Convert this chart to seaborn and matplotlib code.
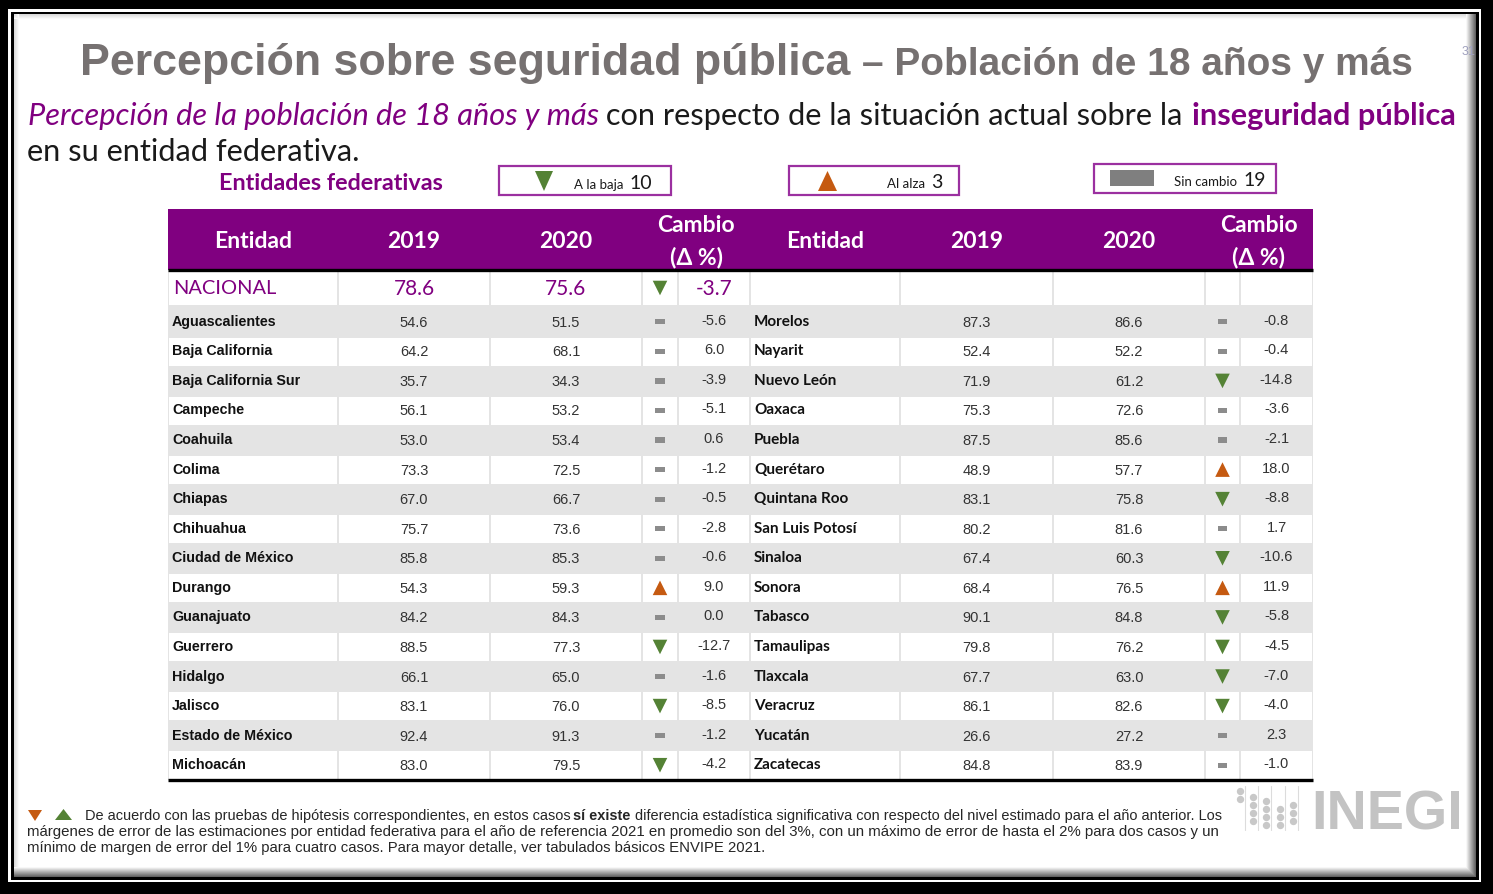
import numpy as np
import pandas as pd
import matplotlib
matplotlib.use("Agg")
import matplotlib.pyplot as plt
from matplotlib.patches import Rectangle, Polygon
import seaborn as sns

# ---- data ----
national = ["NACIONAL", 78.6, 75.6, -3.7, "baja"]

left_states = ["Aguascalientes", "Baja California", "Baja California Sur", "Campeche",
               "Coahuila", "Colima", "Chiapas", "Chihuahua", "Ciudad de México",
               "Durango", "Guanajuato", "Guerrero", "Hidalgo", "Jalisco",
               "Estado de México", "Michoacán"]
left_2019 = [54.6, 64.2, 35.7, 56.1, 53.0, 73.3, 67.0, 75.7, 85.8, 54.3, 84.2, 88.5, 66.1, 83.1, 92.4, 83.0]
left_2020 = [51.5, 68.1, 34.3, 53.2, 53.4, 72.5, 66.7, 73.6, 85.3, 59.3, 84.3, 77.3, 65.0, 76.0, 91.3, 79.5]
left_change = [-5.6, 6.0, -3.9, -5.1, 0.6, -1.2, -0.5, -2.8, -0.6, 9.0, 0.0, -12.7, -1.6, -8.5, -1.2, -4.2]
left_trend = ["igual", "igual", "igual", "igual", "igual", "igual", "igual", "igual", "igual",
              "alza", "igual", "baja", "igual", "baja", "igual", "baja"]

right_states = ["Morelos", "Nayarit", "Nuevo León", "Oaxaca", "Puebla", "Querétaro",
                "Quintana Roo", "San Luis Potosí", "Sinaloa", "Sonora", "Tabasco",
                "Tamaulipas", "Tlaxcala", "Veracruz", "Yucatán", "Zacatecas"]
right_2019 = [87.3, 52.4, 71.9, 75.3, 87.5, 48.9, 83.1, 80.2, 67.4, 68.4, 90.1, 79.8, 67.7, 86.1, 26.6, 84.8]
right_2020 = [86.6, 52.2, 61.2, 72.6, 85.6, 57.7, 75.8, 81.6, 60.3, 76.5, 84.8, 76.2, 63.0, 82.6, 27.2, 83.9]
right_change = [-0.8, -0.4, -14.8, -3.6, -2.1, 18.0, -8.8, 1.7, -10.6, 11.9, -5.8, -4.5, -7.0, -4.0, 2.3, -1.0]
right_trend = ["igual", "igual", "baja", "igual", "igual", "alza", "baja", "igual", "baja",
               "alza", "baja", "baja", "baja", "baja", "igual", "igual"]

header_cols = ["Entidad", "2019", "2020"]

# ---- style ----
PURPLE = "#800080"
GREEN = "#548235"
ORANGE = "#c55a11"
GREY_MARK = "#8c8c8c"
ROW_GREY = "#e4e4e4"
trend_colors = {"baja": GREEN, "alza": ORANGE, "igual": GREY_MARK}
rect_marker = [(-1, -0.55), (1, -0.55), (1, 0.55), (-1, 0.55), (-1, -0.55)]

sns.set_theme(style="white")
plt.rcParams["font.family"] = ["Liberation Sans", "DejaVu Sans"]
CAL = ["Lato", "DejaVu Sans"]

fig = plt.figure(figsize=(14.93, 8.94), dpi=100, facecolor="black")
ax = fig.add_axes([0, 0, 1, 1])
ax.set_xlim(0, 1493)
ax.set_ylim(894, 0)
ax.axis("off")
renderer = fig.canvas.get_renderer()


def fit(t, width):
    w = t.get_window_extent(renderer).width
    t.set_fontsize(t.get_fontsize() * width / w)
    return t


def rich(x, y, pieces, width, size=12, **common):
    texts = [ax.text(x, y, s, fontsize=size, ha="left", va="baseline", **common, **kw)
             for s, kw in pieces]
    widths = [t.get_window_extent(renderer).width for t in texts]
    scale = width / sum(widths)
    cx = x
    for t, w in zip(texts, widths):
        t.set_fontsize(size * scale)
        t.set_x(cx)
        cx += w * scale
    return size * scale


# ---- frame ----
ax.add_patch(Rectangle((0, 0), 1493, 894, color="black", lw=0, zorder=0))
ax.add_patch(Rectangle((8, 9), 1473, 873, color="white", lw=0, zorder=0))
ax.add_patch(Rectangle((11, 12), 1468, 868, color="black", lw=0, zorder=0))
ax.add_patch(Rectangle((14, 14), 1462, 863, color="white", lw=0, zorder=0))
for i in range(10):
    g = 0.97 - 0.065 * i
    ax.add_patch(Rectangle((14, 867 + i), 1462, 1, color=str(g), lw=0, zorder=0.5))
    ax.add_patch(Rectangle((1466 + i, 14), 1, 863, color=str(g), lw=0, zorder=0.5))
for i in range(5):
    g = 0.86 + 0.03 * i
    ax.add_patch(Rectangle((14, 14 + i), 1452, 1, color=str(g), lw=0, zorder=0.5))
    ax.add_patch(Rectangle((14 + i, 14), 1, 853, color=str(g), lw=0, zorder=0.5))

# ---- titles ----
t = ax.text(80, 75, "Percepción sobre seguridad pública", fontsize=33, fontweight="bold",
            color="#767171", ha="left", va="baseline")
fit(t, 772)
t = ax.text(862, 75, "– Población de 18 años y más", fontsize=28, fontweight="bold",
            color="#767171", ha="left", va="baseline")
fit(t, 551)
ax.text(1462, 52, "31", fontsize=9, color="#9fa0bd", ha="left", va="center", zorder=0.6)

fs = rich(28, 125, [("Percepción de la población de 18 años y más", dict(color=PURPLE, style="italic")),
                    (" con respecto de la situación actual sobre la ", dict(color="#1a1a1a")),
                    ("inseguridad pública", dict(color=PURPLE, fontweight="bold"))],
          1427, size=19, family=CAL)
ax.text(27, 161, "en su entidad federativa.", fontsize=fs, color="#1a1a1a", family=CAL,
        ha="left", va="baseline")

t = ax.text(219, 190, "Entidades federativas", fontsize=14, fontweight="bold", color=PURPLE,
            family=CAL, ha="left", va="baseline")
fit(t, 226)

# ---- legend boxes ----
n_baja = sum(tr == "baja" for tr in left_trend + right_trend)
n_alza = sum(tr == "alza" for tr in left_trend + right_trend)
n_igual = len(left_trend + right_trend) - n_baja - n_alza

for (bx, by, bw, bh) in [(499, 166, 172, 29), (789, 166, 170, 29), (1094, 164, 182, 29)]:
    ax.add_patch(Rectangle((bx, by), bw, bh, fill=False, ec="#9b30a0", lw=1.6, zorder=2))
ax.add_patch(Polygon([(535, 171), (553, 171), (544, 191)], color=GREEN, lw=0, zorder=2))
ax.add_patch(Polygon([(818, 191), (837, 191), (827.5, 171)], color=ORANGE, lw=0, zorder=2))
ax.add_patch(Rectangle((1110, 170), 44, 16, color="#7f7f7f", lw=0, zorder=2))
for x0, lab, n, y0 in [(574, "A la baja", n_baja, 189), (887, "Al alza", n_alza, 188),
                       (1174, "Sin cambio", n_igual, 186)]:
    t1 = ax.text(x0, y0, lab, fontsize=9.5, family=CAL, color="#1a1a1a", ha="left", va="baseline")
    w = t1.get_window_extent(renderer).width
    ax.text(x0 + w + 6, y0, str(n), fontsize=14, family=CAL, color="#1a1a1a", ha="left", va="baseline")

# ---- table ----
left_edges = [168, 338, 490, 642, 678, 750]
right_edges = [750, 900, 1053, 1205, 1240, 1313]
head_top, head_bot = 209, 270
nat_bot = 306
row_h = (780 - 307) / 16
row_top = [307 + i * row_h for i in range(16)]

ax.add_patch(Rectangle((168, head_top), 1313 - 168, head_bot - head_top, color=PURPLE, lw=0, zorder=1))
ax.add_patch(Rectangle((168, head_bot), 1313 - 168, 780 - head_bot, color=ROW_GREY, lw=0, zorder=1))

gap = 1.2
for edges in (left_edges, right_edges):
    for a, b in zip(edges[:-1], edges[1:]):
        ax.add_patch(Rectangle((a + gap, head_bot + 1), b - a - 2 * gap, nat_bot - head_bot - 2,
                               color="white", lw=0, zorder=1.2))
        for i in range(1, 16, 2):
            ax.add_patch(Rectangle((a + gap, row_top[i] + 1), b - a - 2 * gap, row_h - 1.5,
                                   color="white", lw=0, zorder=1.2))

ax.plot([168, 1313], [head_bot, head_bot], color="black", lw=2.4, zorder=3, solid_capstyle="butt")
ax.plot([168, 1313], [780, 780], color="black", lw=2.4, zorder=3, solid_capstyle="butt")

# header text
for edges in (left_edges, right_edges):
    for j, lab in enumerate(header_cols):
        ax.text((edges[j] + edges[j + 1]) / 2, 242, lab, fontsize=16.5, fontweight="bold",
                color="white", family=CAL, ha="center", va="center", zorder=4)
    cx = (edges[3] + edges[5]) / 2
    ax.text(cx, 225, "Cambio", fontsize=16.5, fontweight="bold", color="white",
            family=CAL, ha="center", va="center", zorder=4)
    ax.text(cx, 258, "(Δ %)", fontsize=16.5, fontweight="bold", color="white",
            family=CAL, ha="center", va="center", zorder=4)

# national row
nat_y = (head_bot + nat_bot) / 2
t = ax.text(173, nat_y + 1, national[0], fontsize=15, color=PURPLE, family=CAL,
            ha="left", va="center", zorder=4)
fit(t, 103)
for j, v in enumerate(national[1:4]):
    col = [1, 2, 4][j]
    ax.text((left_edges[col] + left_edges[col + 1]) / 2, nat_y + 1, f"{v:.1f}", fontsize=15,
            color=PURPLE, family=CAL, ha="center", va="center", zorder=4)

# body rows
centers = [rt + row_h / 2 for rt in row_top]
for edges, names, v19, v20, chg, name_font in [
        (left_edges, left_states, left_2019, left_2020, left_change, ["Liberation Sans", "DejaVu Sans"]),
        (right_edges, right_states, right_2019, right_2020, right_change, CAL)]:
    for i in range(16):
        yc = centers[i]
        ax.text(edges[0] + 4, yc, names[i], fontsize=11 if name_font == CAL else 10.3,
                fontweight="bold", color="#111111", family=name_font, ha="left", va="center", zorder=4)
        ax.text((edges[1] + edges[2]) / 2, yc + 1, f"{v19[i]:.1f}", fontsize=10.5, color="#333333",
                ha="center", va="center", zorder=4)
        ax.text((edges[2] + edges[3]) / 2, yc + 1, f"{v20[i]:.1f}", fontsize=10.5, color="#333333",
                ha="center", va="center", zorder=4)
        ax.text((edges[4] + edges[5]) / 2, yc - 1, f"{chg[i]:.1f}", fontsize=10.5, color="#333333",
                ha="center", va="center", zorder=4)

# trend markers
marks = pd.DataFrame({
    "x": [(left_edges[3] + left_edges[4]) / 2] * 17 + [(right_edges[3] + right_edges[4]) / 2] * 16,
    "y": [nat_y] + centers + centers,
    "trend": [national[4]] + left_trend + right_trend,
})
sns.scatterplot(data=marks, x="x", y="y", hue="trend", style="trend", size="trend",
                palette=trend_colors, markers={"baja": "v", "alza": "^", "igual": rect_marker},
                sizes={"baja": 110, "alza": 110, "igual": 48}, linewidth=0, legend=False,
                ax=ax, zorder=5)
ax.set_xlim(0, 1493)
ax.set_ylim(894, 0)
ax.axis("off")

# ---- footnote ----
ax.add_patch(Polygon([(28, 810), (42, 810), (35, 821)], color=ORANGE, lw=0, zorder=2))
ax.add_patch(Polygon([(55, 820), (72, 820), (63.5, 809)], color=GREEN, lw=0, zorder=2))
rich(85, 820, [("De acuerdo con las pruebas de hipótesis correspondientes, en estos casos ", {}),
               ("sí existe", dict(fontweight="bold")),
               (" diferencia estadística significativa con respecto del nivel estimado para el año anterior. Los", {})],
     1136, size=10, color="#262626")
t = ax.text(27, 836, "márgenes de error de las estimaciones por entidad federativa para el año de referencia 2021 "
            "en promedio son del 3%, con un máximo de error de hasta el 2% para dos casos y un",
            fontsize=10, color="#262626", ha="left", va="baseline")
fit(t, 1194)
t = ax.text(27, 852, "mínimo de margen de error del 1% para cuatro casos. Para mayor detalle, ver tabulados "
            "básicos ENVIPE 2021.", fontsize=10, color="#262626", ha="left", va="baseline")
fit(t, 741)

# ---- INEGI logo ----
t = ax.text(1311, 830, "INEGI", fontsize=44, fontweight="bold", color="#c3c3c3",
            family=["Liberation Sans Narrow", "Liberation Sans"], ha="left", va="baseline")
fit(t, 152)
dot_cols = [1240, 1253, 1266, 1280, 1293]
dot_rows = [[791, 799], [797, 805, 813, 821], [801, 809, 817, 825], [809, 817, 825], [805, 813, 821]]
for cx, ys in zip(dot_cols, dot_rows):
    ax.plot([cx + 5, cx + 5], [786, 830], color="#dcdcdc", lw=0.8, zorder=1)
    ax.scatter([cx] * len(ys), ys, s=28, color="#c8c8c8", lw=0, zorder=2)

fig.savefig("out.png", dpi=100, facecolor="black")
